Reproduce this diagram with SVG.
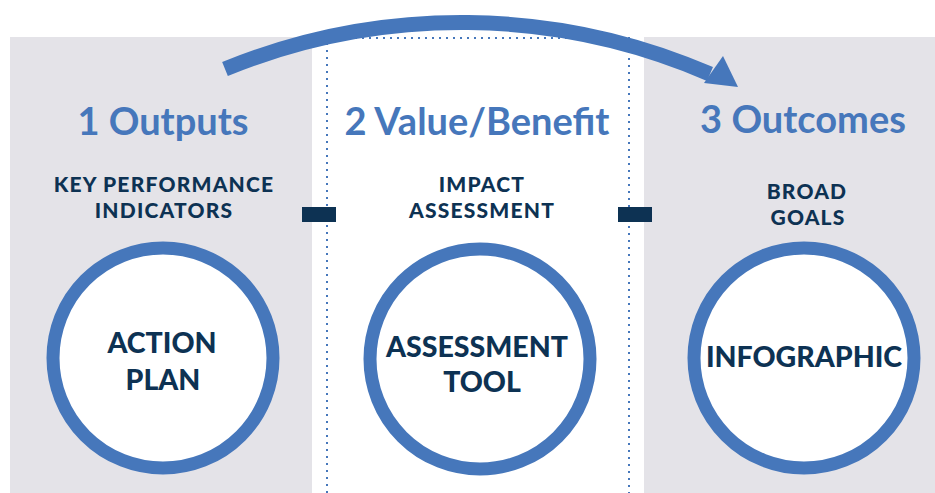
<svg xmlns="http://www.w3.org/2000/svg" width="935" height="493" viewBox="0 0 935 493">
  <style>
    .panel { fill: #e4e3e8; }
    .head { font-family: Lato, "Open Sans", sans-serif; font-weight: 700; font-size: 38px; fill: #4677bb; text-anchor: middle; }
    .sub { font-family: Lato, "Open Sans", sans-serif; font-weight: 900; font-size: 21px; letter-spacing: 1.2px; fill: #0d3253; text-anchor: middle; }
    .inner { font-family: Lato, "Open Sans", sans-serif; font-weight: 900; font-size: 28.5px; fill: #0d3253; text-anchor: middle; }
    .ring { fill: #ffffff; stroke: #4677bb; stroke-width: 13; }
    .dots { fill: none; stroke: #4677bb; stroke-width: 2; stroke-dasharray: 2 5; }
    .bar { fill: #0d3253; }
  </style>
  <rect width="935" height="493" fill="#ffffff"/>
  <rect class="panel" x="10" y="37" width="302" height="456"/>
  <rect class="panel" x="644" y="37" width="291" height="456"/>
  <path class="dots" d="M327 493 V38 H629 V493"/>

  <g id="connectors">
    <path d="M225 69 A625 625 0 0 1 710 74" fill="none" stroke="#4677bb" stroke-width="15"/>
    <polygon points="738,87 704,83 723,56" fill="#4677bb"/>
    <rect class="bar" x="302" y="207" width="34" height="15"/>
    <rect class="bar" x="618" y="207" width="34" height="15"/>
  </g>

  <g id="outputs">
    <text class="head" x="163" y="135">1 Outputs</text>
    <text class="sub" x="164" y="192">KEY PERFORMANCE</text>
    <text class="sub" x="164" y="218">INDICATORS</text>
    <circle class="ring" cx="163" cy="358" r="110"/>
    <text class="inner" x="162" y="353">ACTION</text>
    <text class="inner" x="163" y="390">PLAN</text>
  </g>

  <g id="value">
    <text class="head" x="477" y="135">2 Value/Benefit</text>
    <text class="sub" x="482" y="192">IMPACT</text>
    <text class="sub" x="482" y="218">ASSESSMENT</text>
    <circle class="ring" cx="480" cy="359" r="110"/>
    <text class="inner" x="477" y="357">ASSESSMENT</text>
    <text class="inner" x="482" y="392">TOOL</text>
  </g>

  <g id="outcomes">
    <text class="head" x="803" y="133">3 Outcomes</text>
    <text class="sub" x="807" y="199">BROAD</text>
    <text class="sub" x="808" y="225">GOALS</text>
    <circle class="ring" cx="804" cy="358" r="110"/>
    <text class="inner" x="804" y="367">INFOGRAPHIC</text>
  </g>
</svg>
